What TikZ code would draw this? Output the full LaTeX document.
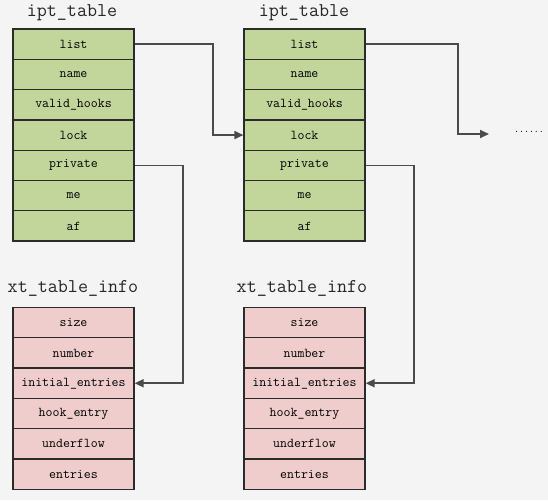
\documentclass[tikz,border=0pt]{standalone}
\usetikzlibrary{arrows.meta}
\definecolor{bg}{HTML}{F4F4F4}
\definecolor{gfill}{HTML}{C2D69B}
\definecolor{rfill}{HTML}{EFCDCC}
\definecolor{edge}{HTML}{2B2B2B}
\definecolor{wire}{HTML}{4A4A4A}
\begin{document}
\begin{tikzpicture}[x=1pt,y=-1pt,
  cell/.style={draw=edge,line width=1.3pt,minimum width=121pt,minimum height=30.3pt,inner sep=0pt,font=\ttfamily\fontsize{13.5}{15}\selectfont,text=black},
  gcell/.style={cell,fill=gfill},
  rcell/.style={cell,fill=rfill},
  ttl/.style={font=\ttfamily\fontsize{19.5}{22}\selectfont,text=black!85,inner sep=0pt},
  conn/.style={draw=wire,line width=1.7pt,-{Triangle[length=9pt,width=8pt]}}]
\useasboundingbox[fill=bg] (0,0) rectangle (548,500);
% green tables
\foreach \t [count=\i] in {list,name,valid\_hooks,lock,private,me,af}{
  \node[gcell] (L\i) at (73.5,{29+30.3*(\i-0.5)}) {\t};
  \node[gcell] (R\i) at (304.5,{29+30.3*(\i-0.5)}) {\t};
}
% pink tables
\foreach \t [count=\i] in {size,number,initial\_entries,hook\_entry,underflow,entries}{
  \node[rcell] (LI\i) at (73.5,{307.5+30.3*(\i-0.5)}) {\t};
  \node[rcell] (RI\i) at (304.5,{307.5+30.3*(\i-0.5)}) {\t};
}
% titles
\node[ttl] (t1) at (72,13) {ipt\_table};
\node[ttl] (t2) at (304,13) {ipt\_table};
\node[ttl] (t3) at (73,288) {xt\_table\_info};
\node[ttl] (t4) at (302,288) {xt\_table\_info};
% continuation
\node[font=\ttfamily\fontsize{9.5}{11}\selectfont,inner sep=0pt] (dots) at (529,132) {......};
\coordinate (next) at (489,134);
% connectors
\draw[conn] (L1.east) -- ++(78,0) |- (R4.west);
\draw[conn] (R1.east) -- ++(92,0) |- (next);
\draw[conn] (L5.east) -- ++(48,0) |- (LI3.east);
\draw[conn] (R5.east) -- ++(48,0) |- (RI3.east);
\end{tikzpicture}
\end{document}
